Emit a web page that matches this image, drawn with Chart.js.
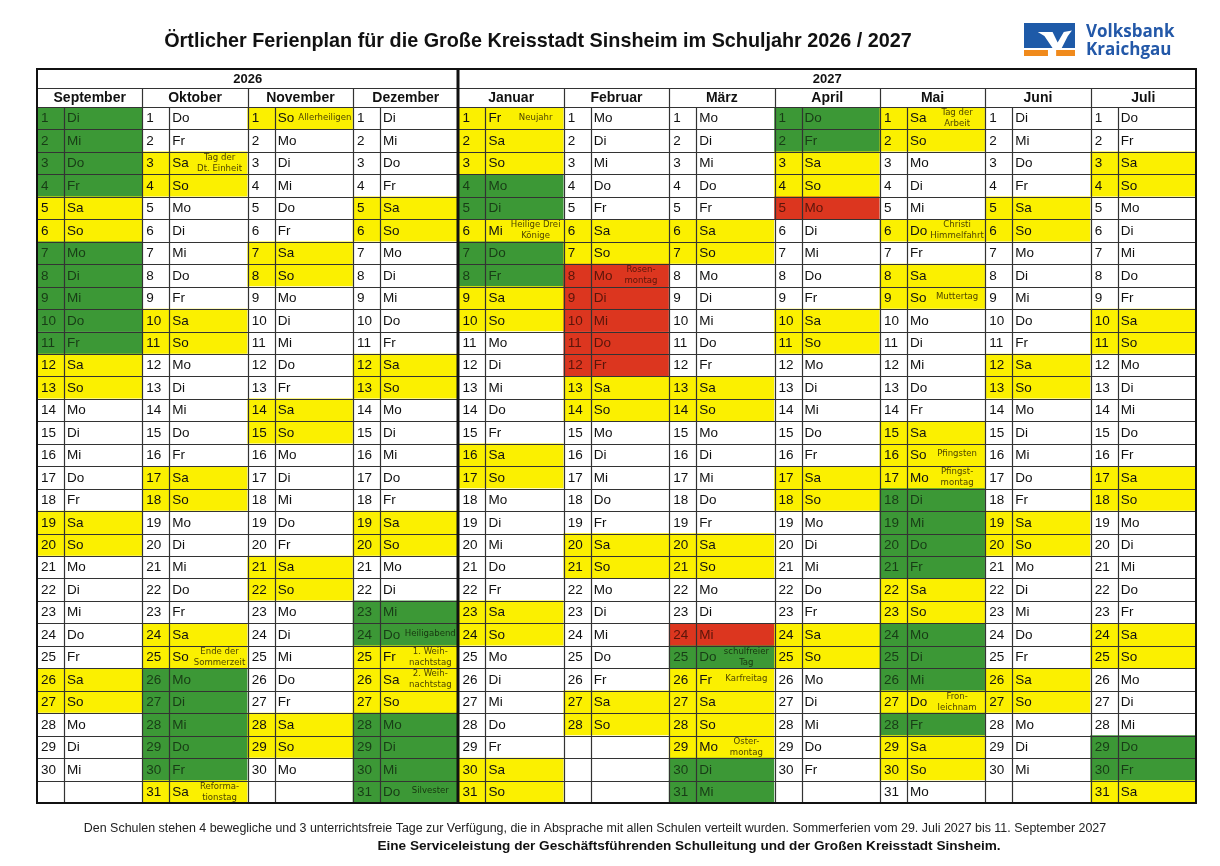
<!DOCTYPE html>
<html lang="de">
<head>
<meta charset="utf-8">
<title>Ferienplan Sinsheim 2026 / 2027</title>
<script src="https://cdn.jsdelivr.net/npm/chart.js@4.4.1/dist/chart.umd.min.js"></script>
<style>
  html, body { margin: 0; padding: 0; background: #fff; }
  canvas { display: block; }
</style>
</head>
<body>
<canvas id="plan" width="1220" height="866"></canvas>
<script>
// months of the school year, in the order of the columns
var months = ["September", "Oktober", "November", "Dezember", "Januar", "Februar", "März", "April", "Mai", "Juni", "Juli"];
var monthYears = [2026, 2026, 2026, 2026, 2027, 2027, 2027, 2027, 2027, 2027, 2027];
var monthNumbers = [8, 9, 10, 11, 0, 1, 2, 3, 4, 5, 6]; // JS month index
var yearLabels = ["2026", "2027"];
var weekdayNames = ["So", "Mo", "Di", "Mi", "Do", "Fr", "Sa"];

// one letter per day 1..31: g = Ferien, y = Wochenende / Feiertag, r = beweglicher Tag, w = Schultag, - = kein Tag
var daysSep = "ggggyygggggyywwwwwyywwwwwyywww-";
var daysOkt = "wwyywwwwwyywwwwwyywwwwwyygggggy";
var daysNov = "ywwwwwyywwwwwyywwwwwyywwwwwyyw-";
var daysDez = "wwwwyywwwwwyywwwwwyywwggyyygggg";
var daysJan = "yyyggyggyywwwwwyywwwwwyywwwwwyy";
var daysFeb = "wwwwwyyrrrrryywwwwwyywwwwwyy---";
var daysMar = "wwwwwyywwwwwyywwwwwyywwrgyyyygg";
var daysApr = "ggyyrwwwwyywwwwwyywwwwwyywwwww-";
var daysMai = "yywwwywyywwwwwyyyggggyygggygyyw";
var daysJun = "wwwwyywwwwwyywwwwwyywwwwwyywww-";
var daysJul = "wwyywwwwwyywwwwwyywwwwwyywwwggy";
var dayStates = [daysSep, daysOkt, daysNov, daysDez, daysJan, daysFeb, daysMar, daysApr, daysMai, daysJun, daysJul];

// notes written next to the weekday: [column, day, text]
var notes = [
  [1, 3, "Tag der\nDt. Einheit"],
  [1, 25, "Ende der\nSommerzeit"],
  [1, 31, "Reforma-\ntionstag"],
  [2, 1, "Allerheiligen"],
  [3, 24, "Heiligabend"],
  [3, 25, "1. Weih-\nnachtstag"],
  [3, 26, "2. Weih-\nnachtstag"],
  [3, 31, "Silvester"],
  [4, 1, "Neujahr"],
  [4, 6, "Heilige Drei\nKönige"],
  [5, 8, "Rosen-\nmontag"],
  [6, 25, "schulfreier\nTag"],
  [6, 26, "Karfreitag"],
  [6, 29, "Oster-\nmontag"],
  [8, 1, "Tag der\nArbeit"],
  [8, 6, "Christi\nHimmelfahrt"],
  [8, 9, "Muttertag"],
  [8, 16, "Pfingsten"],
  [8, 17, "Pfingst-\nmontag"],
  [8, 27, "Fron-\nleichnam"]
];

var fills = { g: "#3c9836", y: "#fbf000", r: "#dc361f", w: "#ffffff", "-": "#ffffff" };
var inkColors = { g: "#183c16", y: "#111111", r: "#5a150a", w: "#111111", "-": "#111111" };
var noteColors = { g: "#17360f", y: "#4f4500", r: "#5a150a", w: "#333333", "-": "#333333" };

var cells = [];
months.forEach(function (m, i) {
  for (var d = 1; d <= 31; d++) {
    cells.push({ x: m, y: [d - 0.5, d + 0.5], col: i, day: d, s: dayStates[i][d - 1] });
  }
});

var SANS = "'Liberation Sans', Arial, sans-serif";
var NARROW = "'Liberation Sans Narrow', 'DejaVu Sans Condensed', sans-serif";

function line(ctx, x1, y1, x2, y2) {
  ctx.beginPath();
  ctx.moveTo(x1, y1);
  ctx.lineTo(x2, y2);
  ctx.stroke();
}
function snap(v) { return Math.round(v) + 0.5; }

var calendarPlugin = {
  id: "calendar",
  beforeDraw: function (chart) {
    var ctx = chart.ctx;
    ctx.save();
    ctx.fillStyle = "#ffffff";
    ctx.fillRect(0, 0, chart.width, chart.height);
    ctx.restore();
  },
  afterDatasetsDraw: function (chart) {
    var ctx = chart.ctx, a = chart.chartArea;
    var xs = chart.scales.x, ys = chart.scales.y;
    var colW = xs.getPixelForValue(1) - xs.getPixelForValue(0);
    var numW = Math.round(colW * 0.256);
    var monthTop = a.top - 19, yearTop = a.top - 38;
    var colLeft = function (i) { return xs.getPixelForValue(i) - colW / 2; };
    var rowMid = function (d) { return ys.getPixelForValue(d); };

    ctx.save();

    // cell texts
    ctx.textBaseline = "middle";
    cells.forEach(function (c) {
      if (c.s === "-") return;
      var left = colLeft(c.col), yMid = rowMid(c.day) + 0.5;
      var date = new Date(monthYears[c.col], monthNumbers[c.col], c.day);
      ctx.fillStyle = inkColors[c.s];
      ctx.font = "13.5px " + SANS;
      ctx.textAlign = "left";
      ctx.fillText(String(c.day), left + 4, yMid);
      ctx.fillText(weekdayNames[date.getDay()], left + numW + 3, yMid);
    });

    // small notes
    notes.forEach(function (n) {
      var col = n[0], day = n[1], parts = n[2].split("\n");
      var s = dayStates[col][day - 1];
      var cx = (colLeft(col) + numW + 22 + colLeft(col) + colW) / 2;
      var yMid = rowMid(day);
      ctx.fillStyle = noteColors[s];
      ctx.font = "9.5px " + NARROW;
      ctx.textAlign = "center";
      if (parts.length === 1) {
        ctx.fillText(parts[0], cx, yMid - 1);
      } else {
        ctx.fillText(parts[0], cx, yMid - 5.5);
        ctx.fillText(parts[1], cx, yMid + 5.5);
      }
    });

    // grid
    ctx.strokeStyle = "#333333";
    ctx.lineWidth = 1.2;
    for (var d = 0; d <= 31; d++) {
      var yy = snap(ys.getPixelForValue(d + 0.5));
      line(ctx, a.left, yy, a.right, yy);
    }
    line(ctx, a.left, snap(monthTop), a.right, snap(monthTop));
    line(ctx, a.left, snap(a.top), a.right, snap(a.top));
    months.forEach(function (m, i) {
      var xl = colLeft(i);
      line(ctx, snap(xl + numW), a.top, snap(xl + numW), a.bottom);
      if (i > 0 && i !== 4) line(ctx, snap(xl), monthTop, snap(xl), a.bottom);
    });
    ctx.strokeStyle = "#111111";
    ctx.lineWidth = 3;
    line(ctx, Math.round(colLeft(4)), yearTop, Math.round(colLeft(4)), a.bottom);
    ctx.lineWidth = 2;
    ctx.strokeRect(Math.round(a.left), Math.round(yearTop), Math.round(a.right - a.left), Math.round(a.bottom - yearTop));

    // header texts
    ctx.fillStyle = "#111111";
    ctx.textAlign = "center";
    ctx.textBaseline = "middle";
    ctx.font = "bold 14px " + SANS;
    months.forEach(function (m, i) {
      ctx.fillText(m, xs.getPixelForValue(i), (monthTop + a.top) / 2 + 1);
    });
    ctx.font = "bold 13px " + SANS;
    ctx.fillText(yearLabels[0], (a.left + colLeft(4)) / 2, (yearTop + monthTop) / 2 + 1);
    ctx.fillText(yearLabels[1], (colLeft(4) + a.right) / 2, (yearTop + monthTop) / 2 + 1);

    // title
    ctx.font = "bold 19.8px " + SANS;
    ctx.textBaseline = "alphabetic";
    ctx.fillText("Örtlicher Ferienplan für die Große Kreisstadt Sinsheim im Schuljahr 2026 / 2027", 538, 47);

    // footer
    ctx.font = "12.45px " + SANS;
    ctx.fillStyle = "#222222";
    ctx.fillText("Den Schulen stehen 4 bewegliche und 3 unterrichtsfreie Tage zur Verfügung, die in Absprache mit allen Schulen verteilt wurden. Sommerferien vom 29. Juli 2027 bis 11. September 2027", 595, 832);
    ctx.font = "bold 13.6px " + SANS;
    ctx.fillStyle = "#111111";
    ctx.fillText("Eine Serviceleistung der Geschäftsführenden Schulleitung und der Großen Kreisstadt Sinsheim.", 689, 850);

    // bank logo
    var lx = 1024, ly = 23, lw = 51, lh = 25;
    ctx.fillStyle = "#1e5aa8";
    ctx.fillRect(lx, ly, lw, lh);
    ctx.fillStyle = "#ffffff";
    ctx.beginPath();
    ctx.moveTo(lx + lw * 0.27, ly + lh * 0.36);
    ctx.lineTo(lx + lw * 0.56, ly + lh * 0.36);
    ctx.lineTo(lx + lw * 0.66, ly + lh * 0.78);
    ctx.lineTo(lx + lw * 0.78, ly + lh * 0.36);
    ctx.lineTo(lx + lw * 0.94, ly + lh * 0.30);
    ctx.lineTo(lx + lw * 0.86, ly + lh * 0.52);
    ctx.lineTo(lx + lw * 0.74, ly + lh * 1.0);
    ctx.lineTo(lx + lw * 0.56, ly + lh * 1.0);
    ctx.lineTo(lx + lw * 0.40, ly + lh * 0.52);
    ctx.closePath();
    ctx.fill();
    ctx.fillStyle = "#f08a1c";
    ctx.fillRect(lx, ly + lh + 2, lw * 0.47, 6);
    ctx.fillRect(lx + lw * 0.63, ly + lh + 2, lw * 0.37, 6);
    ctx.fillStyle = "#2358a8";
    ctx.textAlign = "left";
    ctx.font = "bold 17px 'Open Sans', sans-serif";
    ctx.fillText("Volksbank", 1086, 37);
    ctx.fillText("Kraichgau", 1086, 55);

    ctx.restore();
  }
};

var ctx = document.getElementById("plan").getContext("2d");
var plan = new Chart(ctx, {
  type: "bar",
  data: {
    labels: months,
    datasets: [{
      data: cells,
      backgroundColor: function (c) { return c.raw ? fills[c.raw.s] : "#ffffff"; },
      borderWidth: 0,
      grouped: false,
      barPercentage: 1,
      categoryPercentage: 1
    }]
  },
  options: {
    responsive: false,
    animation: false,
    events: [],
    layout: { padding: { left: 37, right: 24, top: 107, bottom: 63 } },
    scales: {
      x: { display: false, offset: true },
      y: { display: false, min: 0.5, max: 31.5, reverse: true }
    },
    plugins: {
      legend: { display: false },
      tooltip: { enabled: false }
    }
  },
  plugins: [calendarPlugin]
});
</script>
</body>
</html>
